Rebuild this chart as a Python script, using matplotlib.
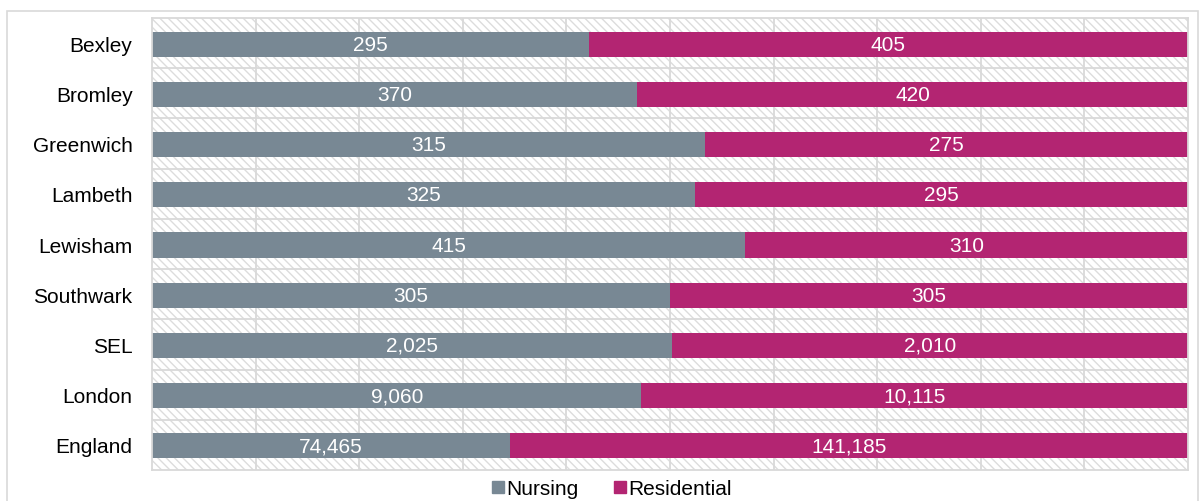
import matplotlib
matplotlib.use("Agg")
import matplotlib.pyplot as plt
from matplotlib.patches import Rectangle, Patch
import numpy as np

plt.rcParams['font.family'] = ['Liberation Sans', 'DejaVu Sans']
plt.rcParams['hatch.linewidth'] = 1.0
plt.rcParams['hatch.color'] = '#DCDCDC'

categories = ["Bexley", "Bromley", "Greenwich", "Lambeth", "Lewisham",
              "Southwark", "SEL", "London", "England"]
nursing = [295, 370, 315, 325, 415, 305, 2025, 9060, 74465]
residential = [405, 420, 275, 295, 310, 305, 2010, 10115, 141185]
series_names = ["Nursing", "Residential"]
colors = ["#788894", "#B32572"]

fig = plt.figure(figsize=(12, 5.02), dpi=100)
W, H = 1200, 502

# outer frame
fig.patches.append(Rectangle((7 / W, -0.05), (1198 - 7) / W, 1.05 - 12 / H,
                             transform=fig.transFigure, fill=False,
                             edgecolor='#D9D9D9', linewidth=1.2))

ax = fig.add_axes([152 / W, 1 - 471 / H, (1188 - 152) / W, (471 - 19) / H])

n = len(categories)
y = np.arange(n)
tot = np.array(nursing) + np.array(residential)
nf = np.array(nursing) / tot
rf = np.array(residential) / tot

ax.set_xlim(0, 1)
ax.set_ylim(n - 0.5, -0.5)

# hatched background
ax.add_patch(Rectangle((0, -0.5), 1, n, facecolor='white', hatch='\\\\\\\\',
                       edgecolor='#DCDCDC', linewidth=0, zorder=0))
# grid lines
for xv in np.arange(0.1, 1.0, 0.1):
    ax.axvline(xv, color='#D9D9D9', linewidth=1.3, zorder=1)
for yv in np.arange(0.5, n - 0.5, 1):
    ax.axhline(yv, color='#D9D9D9', linewidth=1.3, zorder=1)

ax.barh(y + 0.02, nf, height=0.5, color=colors[0], zorder=2)
ax.barh(y + 0.02, rf, left=nf, height=0.5, color=colors[1], zorder=2)

for i in range(n):
    ax.text(nf[i] / 2, y[i] + 0.02, f"{nursing[i]:,}", ha='center', va='center',
            color='white', fontsize=15, zorder=3)
    ax.text(nf[i] + rf[i] / 2, y[i] + 0.02, f"{residential[i]:,}", ha='center', va='center',
            color='white', fontsize=15, zorder=3)

ax.set_yticks(y)
ax.set_yticklabels(categories, fontsize=15)
ax.set_xticks([])
ax.tick_params(axis='y', length=0, pad=14)
for s in ax.spines.values():
    s.set_color('#D9D9D9')
    s.set_linewidth(1.3)

handles = [Patch(color=colors[0]), Patch(color=colors[1])]
fig.legend(handles, series_names, loc='center', bbox_to_anchor=(612 / W, 1 - 490 / H),
           ncol=2, frameon=False, fontsize=15, handlelength=0.55, handleheight=0.55,
           handletextpad=0.12, columnspacing=1.7, borderpad=0)

fig.savefig("out.png", dpi=100)
